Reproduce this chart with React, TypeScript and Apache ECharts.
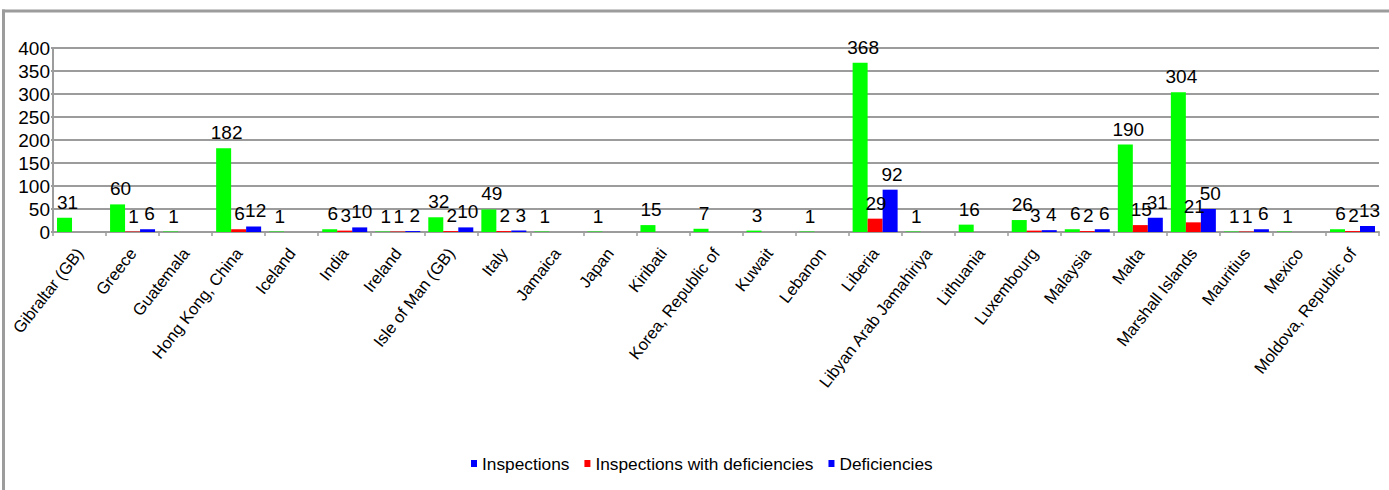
import React, { useEffect, useRef } from "react";
import * as echarts from "echarts";

const countries = [
  "Gibraltar (GB)", "Greece", "Guatemala", "Hong Kong, China", "Iceland",
  "India", "Ireland", "Isle of Man (GB)", "Italy", "Jamaica", "Japan",
  "Kiribati", "Korea, Republic of", "Kuwait", "Lebanon", "Liberia",
  "Libyan Arab Jamahiriya", "Lithuania", "Luxembourg", "Malaysia", "Malta",
  "Marshall Islands", "Mauritius", "Mexico", "Moldova, Republic of",
];

const inspections = [31, 60, 1, 182, 1, 6, 1, 32, 49, 1, 1, 15, 7, 3, 1, 368, 1, 16, 26, 6, 190, 304, 1, 1, 6];
const inspectionsWithDeficiencies = [0, 1, 0, 6, 0, 3, 1, 2, 2, 0, 0, 0, 0, 0, 0, 29, 0, 0, 3, 2, 15, 21, 1, 0, 2];
const deficiencies = [0, 6, 0, 12, 0, 10, 2, 10, 3, 0, 0, 0, 0, 0, 0, 92, 0, 0, 4, 6, 31, 50, 6, 0, 13];

const seriesNames = ["Inspections", "Inspections with deficiencies", "Deficiencies"];
const barColors = ["#00ff00", "#ff0000", "#0000ff"];
const legendColors = ["#0000ff", "#ff0000", "#0000ff"];

const FONT = "'Liberation Sans', Arial, sans-serif";
const GRAY = "#9c9c9c";

export default function App() {
  const ref = useRef<HTMLDivElement>(null);

  useEffect(() => {
    if (!ref.current) return;
    const chart = echarts.init(ref.current, undefined, { renderer: "svg" });
    const values = [inspections, inspectionsWithDeficiencies, deficiencies];
    const offsets = [[3, 0], [1, 0], [2, 0]];

    chart.setOption({
      animation: false,
      backgroundColor: "#ffffff",
      textStyle: { fontFamily: FONT },
      grid: { left: 53, right: 10, top: 48, height: 184 },
      graphic: [
        { type: "line", shape: { x1: 2, y1: 11, x2: 1389, y2: 11 }, style: { stroke: GRAY, lineWidth: 3 } },
        { type: "line", shape: { x1: 3.5, y1: 9.5, x2: 3.5, y2: 490 }, style: { stroke: GRAY, lineWidth: 3 } },
      ],
      legend: {
        left: 466,
        top: 450,
        itemWidth: 6,
        itemHeight: 7,
        itemGap: 15,
        icon: "rect",
        textStyle: { fontFamily: FONT, fontSize: 17.3, color: "#000" },
        data: seriesNames.map((n, i) => ({ name: n, itemStyle: { color: legendColors[i] } })),
      },
      xAxis: {
        type: "category",
        data: countries,
        axisLine: { lineStyle: { color: GRAY, width: 2 } },
        axisTick: { show: true, length: 4, alignWithLabel: false, lineStyle: { color: GRAY, width: 1.5 } },
        axisLabel: {
          interval: 0,
          rotate: 52,
          margin: 18,
          color: "#000",
          fontFamily: FONT,
          fontSize: 16.5,
        },
      },
      yAxis: {
        type: "value",
        min: 0,
        max: 400,
        interval: 50,
        axisLine: { show: true, lineStyle: { color: GRAY, width: 2 } },
        axisTick: { show: true, length: 2, lineStyle: { color: GRAY, width: 2 } },
        splitLine: { lineStyle: { color: GRAY, width: 2 } },
        axisLabel: { color: "#000", fontFamily: FONT, fontSize: 19, margin: 3 },
      },
      series: seriesNames.map((name, i) => ({
        name,
        type: "bar",
        data: values[i],
        barWidth: 15,
        barGap: "0%",
        itemStyle: { color: barColors[i] },
        label: {
          show: true,
          position: "top",
          distance: 6,
          offset: offsets[i],
          color: "#000",
          fontFamily: FONT,
          fontSize: 19,
          formatter: (p: any) => (p.value ? String(p.value) : ""),
        },
      })),
    });

    return () => chart.dispose();
  }, []);

  return (
    <div
      ref={ref}
      style={{ position: "absolute", left: 0, top: 0, width: 1389, height: 490 }}
    />
  );
}
